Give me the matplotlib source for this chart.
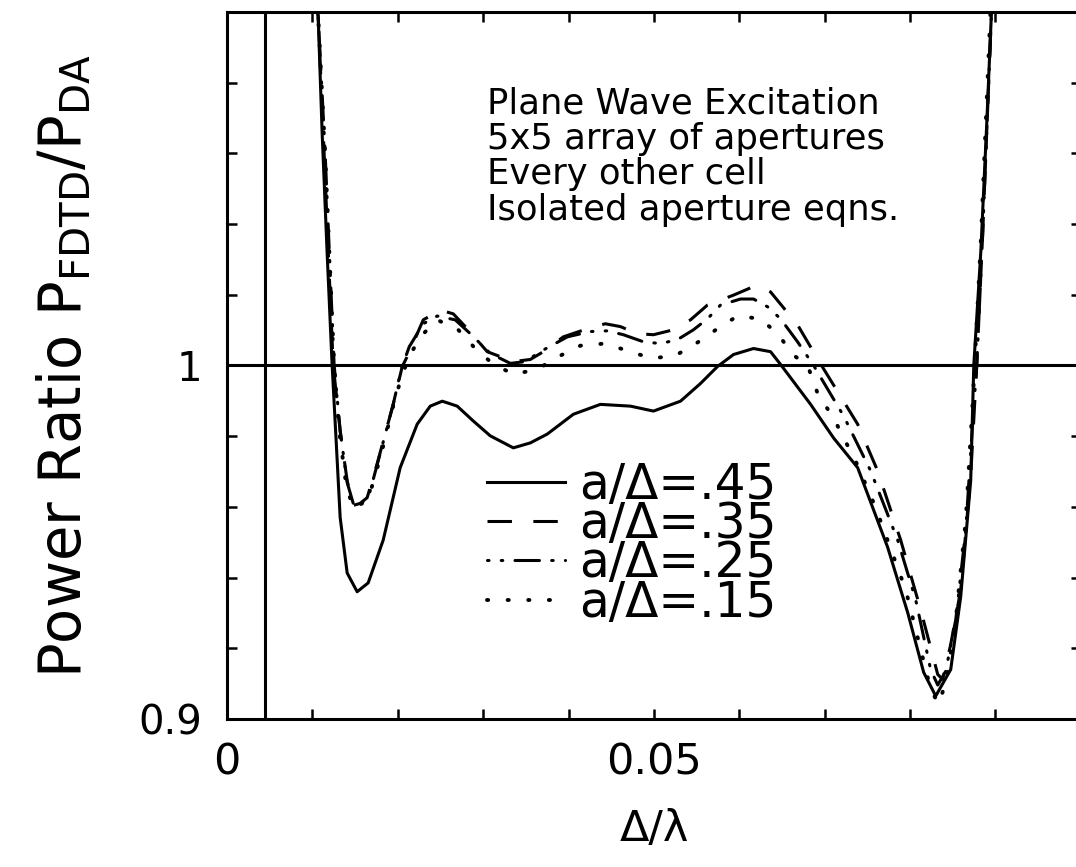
import numpy as np
import matplotlib
matplotlib.use("Agg")
import matplotlib.pyplot as plt

# ---------------- data ----------------
x_45 = [0.01043, 0.01067, 0.01114, 0.01172, 0.01231, 0.01278, 0.01325, 0.01407, 0.01524,
        0.01653, 0.01829, 0.02028, 0.02227, 0.02380, 0.02521, 0.02696, 0.02884, 0.03083,
        0.03353, 0.03552, 0.03751, 0.04056, 0.04373, 0.04725, 0.04994, 0.05311, 0.05545,
        0.05744, 0.05932, 0.06166, 0.06366, 0.06483, 0.06835, 0.07104, 0.07386, 0.07737,
        0.07972, 0.08159, 0.08300, 0.08476, 0.08593, 0.08710, 0.08746, 0.08828, 0.08898,
        0.08957]
y_45 = [1.1022, 1.0989, 1.0657, 1.0320, 1.0000, 0.9787, 0.9570, 0.9413, 0.9360,
        0.9385, 0.9506, 0.9711, 0.9834, 0.9885, 0.9899, 0.9885, 0.9843, 0.9801,
        0.9767, 0.9781, 0.9806, 0.9862, 0.9890, 0.9885, 0.9871, 0.9899, 0.9949,
        0.9997, 1.0031, 1.0048, 1.0039, 1.0003, 0.9890, 0.9795, 0.9711, 0.9486,
        0.9301, 0.9132, 0.9065, 0.9140, 0.9346, 0.9674, 1.0000, 1.0320, 1.0685,
        1.1022]

x_35 = [0.01043, 0.01067, 0.01137, 0.01196, 0.01243, 0.01325, 0.01407, 0.01477, 0.01559,
        0.01641, 0.01758, 0.01946, 0.02052, 0.02122, 0.02298, 0.02497, 0.02650, 0.02814,
        0.03048, 0.03353, 0.03552, 0.03705, 0.03939, 0.04256, 0.04431, 0.04607, 0.04807,
        0.04994, 0.05229, 0.05428, 0.05627, 0.05932, 0.06213, 0.06366, 0.06682, 0.06963,
        0.07386, 0.07620, 0.07890, 0.08124, 0.08324, 0.08382, 0.08476, 0.08593, 0.08710,
        0.08781, 0.08851, 0.08957]
y_35 = [1.1022, 1.0989, 1.0601, 1.0264, 1.0003, 0.9815, 0.9674, 0.9604, 0.9610,
        0.9626, 0.9722, 0.9890, 0.9997, 1.0031, 1.0129, 1.0157, 1.0146, 1.0104,
        1.0039, 1.0011, 1.0017, 1.0039, 1.0081, 1.0107, 1.0118, 1.0110, 1.0090,
        1.0087, 1.0101, 1.0129, 1.0171, 1.0199, 1.0228, 1.0208, 1.0115, 1.0000,
        0.9834, 0.9702, 0.9506, 0.9309, 0.9126, 0.9112, 0.9211, 0.9365, 0.9688,
        1.0000, 1.0376, 1.1022]

x_25 = [0.01043, 0.01067, 0.01149, 0.01208, 0.01254, 0.01325, 0.01407, 0.01489, 0.01583,
        0.01665, 0.01770, 0.01946, 0.02040, 0.02134, 0.02298, 0.02462, 0.02673, 0.02849,
        0.03083, 0.03318, 0.03494, 0.03669, 0.03986, 0.04256, 0.04455, 0.04642, 0.04877,
        0.05076, 0.05275, 0.05463, 0.05627, 0.05780, 0.06014, 0.06166, 0.06331, 0.06483,
        0.06682, 0.06870, 0.07222, 0.07538, 0.07855, 0.08066, 0.08241, 0.08324, 0.08417,
        0.08535, 0.08652, 0.08734, 0.08781, 0.08851, 0.08957]
y_25 = [1.1022, 1.0989, 1.0601, 1.0264, 1.0003, 0.9815, 0.9669, 0.9601, 0.9612,
        0.9635, 0.9730, 0.9890, 0.9989, 1.0053, 1.0118, 1.0140, 1.0129, 1.0090,
        1.0034, 1.0006, 1.0011, 1.0039, 1.0081, 1.0096, 1.0098, 1.0087, 1.0067,
        1.0062, 1.0073, 1.0101, 1.0132, 1.0171, 1.0188, 1.0188, 1.0166, 1.0132,
        1.0067, 1.0000, 0.9857, 0.9702, 0.9506, 0.9337, 0.9140, 0.9096, 0.9135,
        0.9281, 0.9534, 0.9843, 1.0000, 1.0376, 1.1022]

x_15 = [0.01043, 0.01067, 0.01149, 0.01208, 0.01254, 0.01313, 0.01395, 0.01477, 0.01583,
        0.01676, 0.01794, 0.01946, 0.02028, 0.02122, 0.02263, 0.02462, 0.02708, 0.02907,
        0.03107, 0.03353, 0.03634, 0.03880, 0.04138, 0.04420, 0.04689, 0.04971, 0.05252,
        0.05510, 0.05744, 0.05979, 0.06249, 0.06460, 0.06624, 0.06800, 0.06929, 0.07093,
        0.07222, 0.07362, 0.07597, 0.07949, 0.08124, 0.08241, 0.08335, 0.08429, 0.08535,
        0.08652, 0.08734, 0.08828, 0.08945]
y_15 = [1.1022, 1.0989, 1.0601, 1.0264, 1.0003, 0.9815, 0.9663, 0.9596, 0.9610,
        0.9640, 0.9739, 0.9885, 0.9955, 1.0020, 1.0081, 1.0129, 1.0101, 1.0048,
        1.0006, 0.9975, 0.9989, 1.0025, 1.0056, 1.0062, 1.0042, 1.0020, 1.0028,
        1.0065, 1.0104, 1.0140, 1.0132, 1.0087, 1.0031, 1.0000, 0.9913, 0.9857,
        0.9795, 0.9730, 0.9598, 0.9365, 0.9197, 0.9084, 0.9042, 0.9112, 0.9281,
        0.9562, 0.9899, 1.0348, 1.1022]

vline_x = 0.0044      # steep branch at small delta/lambda
ref_level = 1.0       # ratio = 1 reference line

labels = ['a/\u0394=.45', 'a/\u0394=.35', 'a/\u0394=.25', 'a/\u0394=.15']
note = 'Plane Wave Excitation\n5x5 array of apertures\nEvery other cell\nIsolated aperture eqns.'

# ---------------- figure ----------------
lw = 2.2

fig = plt.figure(figsize=(10.76, 8.67), dpi=100)
ax = fig.add_axes([0.211, 0.1707, 0.7935, 0.8155])

ax.plot(x_45, y_45, color='black', lw=lw, linestyle='-', label=labels[0])
ax.plot(x_35, y_35, color='black', lw=lw, linestyle=(0, (8, 7)), label=labels[1])
ax.plot(x_25, y_25, color='black', lw=lw, linestyle=(12, (8, 4, 0.5, 4, 0.5, 4)),
        dash_capstyle='round', label=labels[2])
ax.plot(x_15, y_15, color='black', lw=2.8, linestyle=(0, (0.3, 5)),
        dash_capstyle='round', label=labels[3])

ax.axvline(vline_x, color='black', lw=lw)
ax.axhline(ref_level, color='black', lw=lw)

ax.set_xlim(0, 0.1)
ax.set_ylim(0.9, 1.1)

# ticks: inward on all sides
ax.set_xticks([0, 0.05, 0.1])
ax.set_xticklabels(['0', '0.05', ''])
ax.set_xticks(np.arange(0, 0.1001, 0.01), minor=True)
ax.set_yticks([0.9, 1.0, 1.1])
ax.set_yticklabels(['0.9', '1', ''])
ax.set_yticks(np.arange(0.9, 1.1001, 0.02), minor=True)
ax.tick_params(which='both', direction='in', top=True, right=True, length=7, width=1.8)
ax.tick_params(axis='y', which='major', labelsize=29, pad=18)
ax.tick_params(axis='x', which='major', labelsize=31, pad=16)

for s in ax.spines.values():
    s.set_linewidth(2.2)

ax.set_xlabel('\u0394/\u03bb', fontsize=31, labelpad=18)
ax.set_ylabel(r'Power Ratio P$_{\mathregular{FDTD}}$/P$_{\mathregular{DA}}$',
              fontsize=41.5, labelpad=32)

ax.text(0.3044, 0.895, note, transform=ax.transAxes, ha='left', va='top',
        fontsize=25.5, linespacing=1.06)

leg = ax.legend(loc='upper left', bbox_to_anchor=(0.3044, 0.365), frameon=False,
                fontsize=35, handlelength=1.6, handletextpad=0.3,
                labelspacing=-0.18, borderpad=0, borderaxespad=0)

fig.savefig('out.png', dpi=100)
